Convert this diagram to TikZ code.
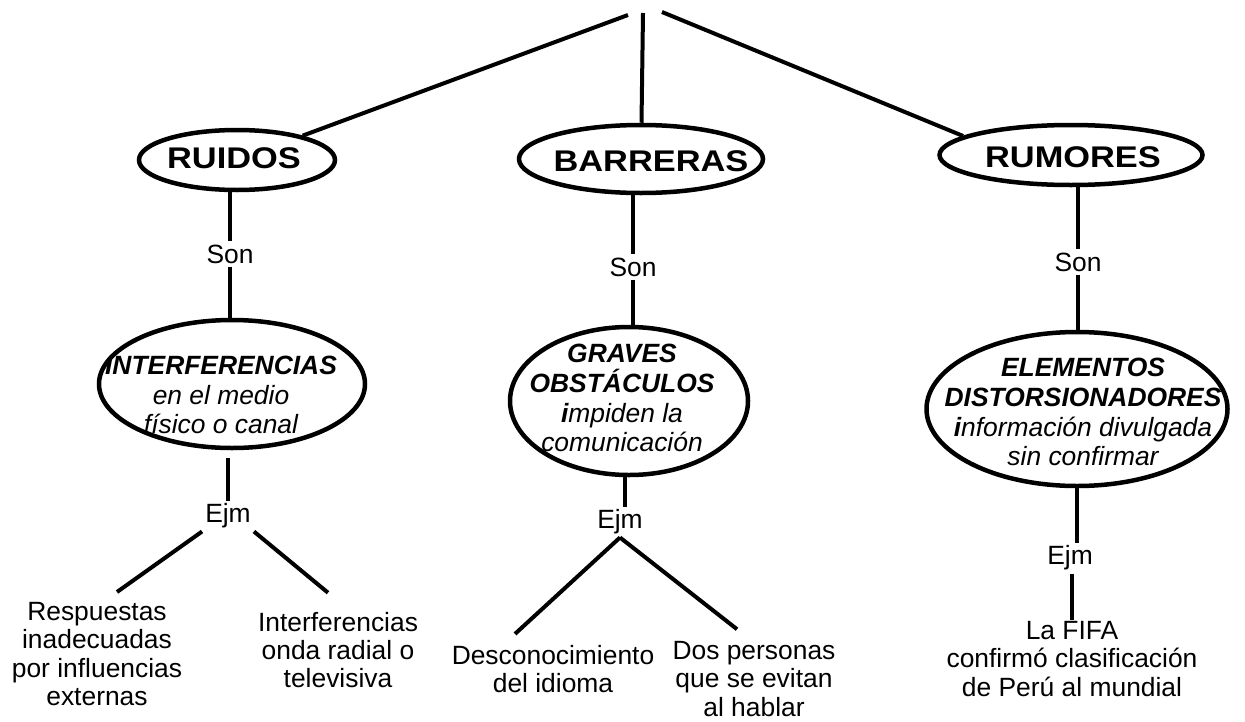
\documentclass[tikz,border=0pt]{standalone}
\usepackage{fontspec}
\setmainfont{Liberation Sans}
\usetikzlibrary{shapes}

\begin{document}
\begin{tikzpicture}[
  oval/.style={draw,ellipse,line width=4.5bp,inner sep=0pt},
  head/.style={font=\fontsize{30}{34}\selectfont\bfseries,xscale=1.15},
  ovaltext/.style={align=center,font=\fontsize{26.5}{30}\selectfont\itshape},
  word/.style={font=\fontsize{26.5}{29}\selectfont,inner sep=3bp},
  leaf/.style={align=center,font=\fontsize{26.5}{28.5}\selectfont,inner sep=1bp},
  link/.style={line width=4bp}]

\useasboundingbox (0bp,0bp) rectangle (1245bp,-722bp);

\coordinate (topL) at (628bp,-15bp);
\coordinate (topM) at (643bp,-13bp);
\coordinate (topR) at (662bp,-12bp);

\node (ruidos) at (237bp,-160bp)[oval,minimum width=196bp,minimum height=60bp] {};
\node (barr) at (641bp,-159bp)[oval,minimum width=244bp,minimum height=68bp] {};
\node (rumores) at (1071bp,-155bp)[oval,minimum width=263bp,minimum height=60bp] {};
\node (ruidosT) at (234bp,-158bp)[head] {RUIDOS};
\node (barrT) at (651bp,-161bp)[head] {BARRERAS};
\node (rumoresT) at (1073bp,-157bp)[head] {RUMORES};

\node (son1) at (230bp,-254bp)[word] {Son};
\node (son2) at (633bp,-267bp)[word] {Son};
\node (son3) at (1078bp,-262bp)[word] {Son};

\node (interf) at (232bp,-384bp)[oval,minimum width=266bp,minimum height=128bp] {};
\node (grav) at (629bp,-401bp)[oval,minimum width=238bp,minimum height=148bp] {};
\node (elem) at (1077bp,-409bp)[oval,minimum width=301bp,minimum height=154bp] {};
\node (interfT) at (221bp,-395bp)[ovaltext] {\textbf{INTERFERENCIAS}\\en el medio\\físico o canal};
\node (gravT) at (622bp,-398bp)[ovaltext] {\textbf{GRAVES}\\\textbf{OBSTÁCULOS}\\\textbf{i}mpiden la\\comunicación};
\node (elemT) at (1083bp,-412bp)[ovaltext] {\textbf{ELEMENTOS}\\\textbf{DISTORSIONADORES}\\\textbf{i}nformación divulgada\\sin confirmar};

\node (ejm1) at (228bp,-516bp)[word] {Ejm};
\node (ejm2) at (620bp,-522bp)[word] {Ejm};
\node (ejm3) at (1070bp,-558bp)[word] {Ejm};

\node (resp) at (97bp,-654bp)[leaf] {Respuestas\\inadecuadas\\por influencias\\externas};
\node (tele) at (338bp,-650bp)[leaf] {Interferencias\\onda radial o\\televisiva};
\node (desc) at (553bp,-669bp)[leaf] {Desconocimiento\\del idioma};
\node (dos) at (754bp,-679bp)[leaf] {Dos personas\\que se evitan\\al hablar};
\node (fifa) at (1072bp,-659bp)[leaf] {La FIFA\\confirmó clasificación\\de Perú al mundial};

\draw [link] (topL) -- (ruidos);
\draw [link] (topM) -- (barr);
\draw [link] (topR) -- (rumores.170);

\draw [link] (son1 |- ruidos.south) -- (son1) -- (son1 |- interf.north);
\draw [link] (son2 |- barr.south) -- (son2) -- (son2 |- grav.north);
\draw [link] (son3 |- rumores.south) -- (son3) -- (son3 |- elem.north);

\draw [link,shorten <=8bp] (ejm1 |- interf.south) -- (ejm1);
\draw [link] ([xshift=-4bp]grav.south) -- ([xshift=-4bp]grav.south |- ejm2.north);
\draw [link] (elem.south) -- (elem.south |- ejm3.north);

\draw [link] (ejm1.south west) -- ([xshift=20bp,yshift=9bp]resp.north);
\draw [link] (ejm1.south east) -- ([xshift=-10bp,yshift=18bp]tele.north);
\draw [link] (ejm2.south) -- ([xshift=-38bp,yshift=10bp]desc.north);
\draw [link] (ejm2.south) -- ([xshift=-17bp,yshift=11bp]dos.north);
\draw [link] ([xshift=2bp]ejm3.south) -- ([xshift=2bp]ejm3.south |- fifa.north);
\end{tikzpicture}
\end{document}
